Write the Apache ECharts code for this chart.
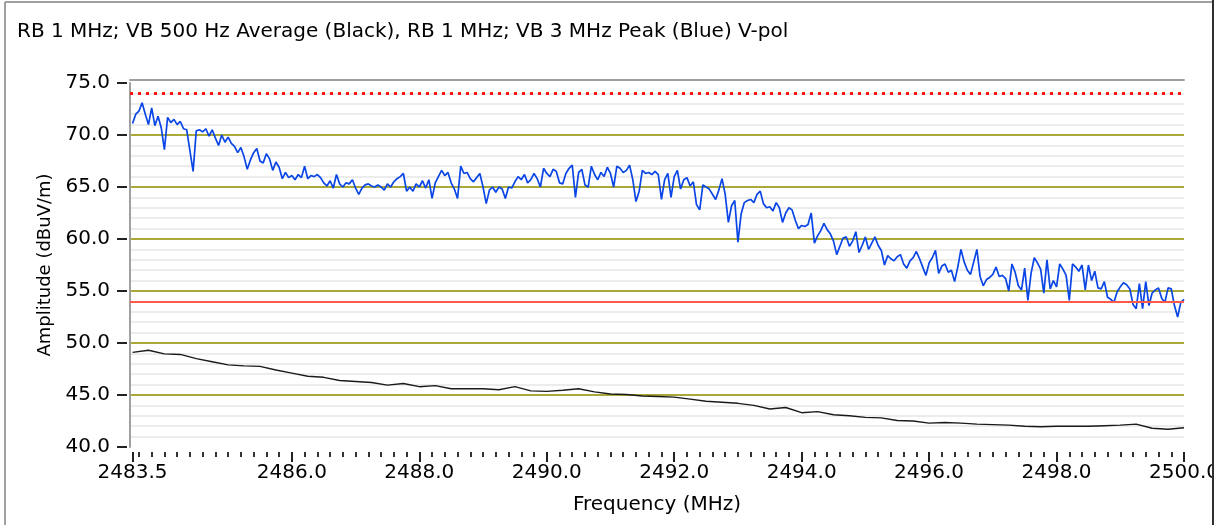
<!DOCTYPE html>
<html>
<head>
<meta charset="utf-8">
<title>Peak and average sweep</title>
<script src="https://cdn.jsdelivr.net/npm/echarts@6/dist/echarts.min.js"></script>
<style>
  html, body { margin: 0; padding: 0; background: #fff; }
  #chart { width: 1225px; height: 525px; }
</style>
</head>
<body>
<div id="chart"></div>
<script>
// sweep settings (MHz)
var sweepStart = 2483.5;
var peakStep = 0.05;
var avgStep = 0.25;

// blue trace, RB 1 MHz / VB 3 MHz peak (dBuV/m)
var peakLevels = [
  71.1, 72.0, 72.3, 73.1, 72.0, 71.0, 72.6, 70.9, 71.8, 70.7,
  68.6, 71.7, 71.2, 71.5, 71.0, 71.3, 70.6, 70.5, 68.5, 66.5,
  70.4, 70.5, 70.3, 70.6, 69.9, 70.5, 69.7, 69.0, 70.0, 69.3,
  69.8, 69.2, 68.9, 68.3, 68.8, 67.9, 66.7, 67.6, 68.3, 68.7,
  67.5, 67.3, 68.2, 67.7, 66.6, 67.4, 66.9, 65.8, 66.4, 65.9,
  66.1, 65.7, 66.2, 65.9, 67.0, 65.8, 66.1, 66.0, 66.2, 65.9,
  65.4, 65.1, 65.6, 64.9, 66.2, 65.3, 65.0, 65.4, 65.3, 65.7,
  64.9, 64.3, 64.9, 65.2, 65.3, 65.1, 65.0, 65.2, 65.0, 64.7,
  65.3, 65.0, 65.5, 65.8, 66.0, 66.3, 64.6, 65.0, 64.6, 65.3,
  65.0, 65.6, 64.9, 65.7, 63.9, 65.4, 66.0, 66.6, 66.1, 66.4,
  65.4, 64.8, 63.9, 67.0, 66.3, 66.4, 65.8, 65.5, 65.9, 66.3,
  65.0, 63.4, 64.7, 65.0, 64.5, 65.0, 64.8, 63.9, 65.0, 64.9,
  65.5, 66.0, 65.7, 66.2, 65.4, 65.7, 66.3, 65.8, 65.0, 66.8,
  66.3, 66.0, 66.7, 66.5, 65.4, 65.3, 66.3, 66.8, 67.1, 64.0,
  66.4, 66.7, 65.2, 65.0, 67.0, 66.2, 65.7, 66.4, 66.0, 66.9,
  66.3, 65.0, 67.0, 66.8, 66.4, 66.6, 67.1, 65.7, 63.6, 64.6,
  66.6, 66.3, 66.4, 66.2, 66.5, 66.2, 63.8, 65.7, 66.3, 64.0,
  66.0, 66.6, 64.8, 65.7, 65.9, 65.1, 65.5, 63.3, 62.8, 65.2,
  65.0, 64.8, 64.3, 63.8, 64.7, 65.8, 64.3, 61.6, 63.2, 63.7,
  59.7, 62.4, 63.5, 63.7, 63.8, 63.5, 64.3, 64.6, 63.4, 63.0,
  63.1, 62.7, 63.5, 63.0, 61.6, 62.5, 63.0, 62.8, 61.8, 61.0,
  61.3, 61.2, 61.4, 62.5, 59.6, 60.3, 60.8, 61.5, 60.9, 60.5,
  59.8, 58.5, 59.3, 60.1, 60.2, 59.3, 59.8, 60.7, 58.7, 59.4,
  60.2, 59.0, 59.6, 60.2, 59.4, 58.9, 57.5, 58.4, 58.1, 57.9,
  58.3, 58.5, 57.6, 57.2, 57.9, 58.2, 58.8, 58.1, 57.3, 56.5,
  57.7, 58.2, 58.9, 56.7, 57.4, 57.6, 56.8, 57.0, 55.9, 57.3,
  59.0, 57.8, 57.0, 56.6, 57.8, 59.0, 56.4, 55.5, 56.1, 56.3,
  56.6, 57.3, 56.4, 56.5, 56.2, 55.0, 57.6, 56.8, 55.5, 55.1,
  57.2, 54.1, 56.7, 58.2, 57.7, 57.1, 54.8, 58.0, 55.2, 56.0,
  55.4, 57.6, 57.1, 56.5, 54.1, 57.6, 57.3, 56.9, 57.5, 55.1,
  57.5, 56.0, 56.9, 55.3, 55.2, 55.9, 54.4, 54.2, 53.9, 54.9,
  55.4, 55.8, 55.6, 55.2, 53.7, 53.3, 55.7, 53.3, 55.9, 53.6,
  54.8, 55.1, 55.3, 54.3, 53.9, 55.3, 55.2, 53.6, 52.5, 53.9,
  54.2
];

// black trace, RB 1 MHz / VB 500 Hz average (dBuV/m)
var avgLevels = [
  49.1, 49.3, 48.95, 48.9, 48.5, 48.2, 47.9, 47.8, 47.75, 47.4,
  47.1, 46.8, 46.7, 46.4, 46.3, 46.2, 45.95, 46.1, 45.8, 45.9,
  45.6, 45.6, 45.6, 45.5, 45.8, 45.4, 45.35, 45.45, 45.6, 45.3,
  45.1, 45.05, 44.9, 44.85, 44.8, 44.6, 44.4, 44.3, 44.2, 44.0,
  43.65, 43.8, 43.3, 43.4, 43.1, 43.0, 42.85, 42.8, 42.55, 42.5,
  42.3, 42.35, 42.3, 42.2, 42.15, 42.1, 42.0, 41.95, 42.0, 42.0,
  42.0, 42.05, 42.1, 42.2, 41.8, 41.7, 41.85
];

var peakLimit = 74;
var avgLimit = 54;

var freqTicks = [2483.5, 2486, 2488, 2490, 2492, 2494, 2496, 2498, 2500];
var levelTicks = [40, 45, 50, 55, 60, 65, 70, 75];

// minor frequency ticks every 0.2 MHz
var minorFreqTicks = [];
for (var k = 12418; k <= 12499; k++) {
  var f = k / 5;
  if (freqTicks.indexOf(f) < 0) minorFreqTicks.push(f);
}

function sweep(start, step, values) {
  return values.map(function (v, i) {
    return [Math.round((start + i * step) * 100) / 100, v];
  });
}

var font = 'DejaVu Sans';
var chart = echarts.init(document.getElementById('chart'));

var option = {
  animation: false,
  title: {
    text: 'RB 1 MHz; VB 500 Hz Average (Black), RB 1 MHz; VB 3 MHz Peak (Blue) V-pol',
    left: 12,
    top: 17,
    textStyle: { fontFamily: font, fontSize: 20, fontWeight: 'normal', color: '#000' }
  },
  graphic: [
    { type: 'line', shape: { x1: 5, y1: 2, x2: 5, y2: 525 }, style: { stroke: '#a0a0a0', lineWidth: 2 } },
    { type: 'line', shape: { x1: 5, y1: 2, x2: 1213, y2: 2 }, style: { stroke: '#a0a0a0', lineWidth: 2 } },
    { type: 'rect', z: 100, shape: { x: 1213, y: 0, width: 12, height: 525 }, style: { fill: '#fff' } },
    { type: 'line', z: 101, shape: { x1: 1213, y1: 0, x2: 1213, y2: 525 }, style: { stroke: '#303030', lineWidth: 2 } }
  ],
  grid: { left: 130, right: 41, top: 83, bottom: 78 },
  xAxis: [
    {
      type: 'value', min: 2483.46, max: 2500, position: 'bottom', offset: 5,
      name: 'Frequency (MHz)', nameLocation: 'middle', nameGap: 43,
      nameTextStyle: { fontFamily: font, fontSize: 20, color: '#000' },
      axisLine: { show: false },
      axisTick: { show: true, customValues: freqTicks, length: 10, lineStyle: { color: '#222', width: 2 } },
      axisLabel: {
        customValues: freqTicks, margin: 11,
        fontFamily: font, fontSize: 20, color: '#000',
        formatter: function (v) { return v.toFixed(1); }
      },
      splitLine: { show: false }
    },
    {
      type: 'value', min: 2483.46, max: 2500, position: 'bottom', offset: 5,
      axisLine: { show: false },
      axisTick: { show: true, customValues: minorFreqTicks, length: 5, lineStyle: { color: '#333', width: 2 } },
      axisLabel: { show: false },
      splitLine: { show: false }
    },
    {
      type: 'value', min: 2483.46, max: 2500, position: 'top', offset: 3,
      axisLine: { show: true, lineStyle: { color: '#a0a0a0', width: 2 } },
      axisTick: { show: false },
      axisLabel: { show: false },
      splitLine: { show: false }
    }
  ],
  yAxis: [
    {
      type: 'value', min: 40, max: 75, interval: 5, position: 'left',
      axisLine: { show: true, lineStyle: { color: '#a0a0a0', width: 2 } },
      axisTick: { show: false },
      axisLabel: { show: false },
      splitLine: { show: true, showMinLine: false, showMaxLine: false, lineStyle: { color: '#a9a838', width: 2 } },
      minorTick: { show: false, splitNumber: 5 },
      minorSplitLine: { show: true, lineStyle: { color: '#ececec', width: 2 } }
    },
    {
      type: 'value', min: 40, max: 75, interval: 5, position: 'left', offset: 3,
      name: 'Amplitude (dBuV/m)', nameLocation: 'middle', nameGap: 72,
      nameTextStyle: { fontFamily: font, fontSize: 18, color: '#000' },
      axisLine: { show: false },
      axisTick: { show: true, customValues: levelTicks, length: 10, lineStyle: { color: '#222', width: 2 } },
      axisLabel: {
        customValues: levelTicks, margin: 17,
        fontFamily: font, fontSize: 20, color: '#000',
        formatter: function (v) { return v.toFixed(1); }
      },
      splitLine: { show: false }
    }
  ],
  series: [
    {
      name: 'Average',
      type: 'line',
      xAxisIndex: 0,
      yAxisIndex: 0,
      data: sweep(sweepStart, avgStep, avgLevels),
      showSymbol: false,
      lineStyle: { color: '#1a1a1a', width: 1.4 },
      markLine: {
        silent: true,
        symbol: ['none', 'none'],
        label: { show: false },
        data: [
          { yAxis: peakLimit, lineStyle: { color: '#ff1010', type: [3, 5], width: 3 } },
          { yAxis: avgLimit, lineStyle: { color: '#ff5a48', type: 'solid', width: 2 } }
        ]
      }
    },
    {
      name: 'Peak',
      type: 'line',
      xAxisIndex: 0,
      yAxisIndex: 0,
      data: sweep(sweepStart, peakStep, peakLevels),
      showSymbol: false,
      lineStyle: { color: '#0a46e6', width: 1.7 }
    }
  ]
};

chart.setOption(option);
</script>
</body>
</html>
